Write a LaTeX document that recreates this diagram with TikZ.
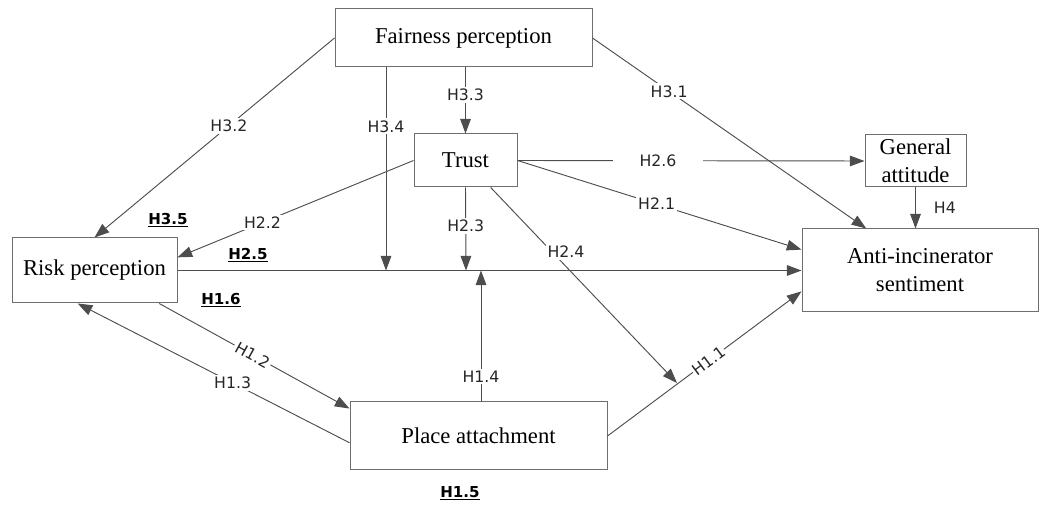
\documentclass[tikz,border=0pt]{standalone}
\usepackage{fontspec}
\setmainfont{Liberation Serif}
\newfontfamily\hypfont{DejaVu Sans}
\usepackage{tikz}
\usetikzlibrary{arrows.meta,positioning,calc}
\definecolor{lineGray}{RGB}{77,77,77}
\definecolor{boxGray}{RGB}{110,110,110}

\begin{document}
\begin{tikzpicture}[x=0.75pt, y=-0.75pt,
  box/.style={draw=boxGray, line width=0.75pt, align=center, inner sep=0pt, font=\fontsize{17}{21}\selectfont},
  arr/.style={draw=lineGray, line width=0.7pt, -{Triangle[length=11pt,width=8pt]}},
  lbl/.style={fill=white, inner sep=1.5pt, font=\hypfont\fontsize{11.8}{14}\selectfont, text=black!85},
  hyp/.style={font=\hypfont\bfseries\fontsize{11.3}{13}\selectfont}]
  \useasboundingbox (0,0) rectangle (1042,505);

  % constructs
  \node[box, minimum width=192.75pt, minimum height=43.5pt] (fair) at (463.5,38) {Fairness perception};
  \node[box, minimum width=77.25pt, minimum height=39.75pt] (trust) at (465.5,160.5) {Trust};
  \node[box, minimum width=75.75pt, minimum height=39pt] (gen) at (915.5,161) {General\\attitude};
  \node[box, minimum width=177pt, minimum height=62.25pt] (anti) at (920,270.5) {Anti-incinerator\\sentiment};
  \node[box, minimum width=123.75pt, minimum height=48.75pt] (risk) at (94.5,270.5) {Risk perception};
  \node[box, minimum width=192.75pt, minimum height=51pt] (place) at (478.5,436) {Place attachment};

  % moderation points
  \coordinate (m34) at (386,270.5);
  \coordinate (m23) at (466,270.5);
  \coordinate (m14) at (481,270.5);
  \coordinate (p24) at (677,383);

  % hypotheses
  \draw[arr] (fair.west) -- node[lbl, pos=0.44] {H3.2} (risk.north);
  \draw[arr] (fair.south -| m34) -- node[lbl, pos=0.29] {H3.4} (m34);
  \draw[arr] (fair.south -| trust.north) -- node[lbl, pos=0.42] {H3.3} (trust.north);
  \draw[arr] (fair.east) -- node[lbl, pos=0.28] {H3.1} (anti.142);
  \draw[arr] (trust.west) -- node[lbl, pos=0.64] {H2.2} (risk.9);
  \draw[arr] (trust.south) -- node[lbl, pos=0.46] {H2.3} (m23);
  \draw[arr] (trust.east) -- node[lbl, pos=0.49] {H2.1} (anti.170);
  \draw[arr] (trust.east) -- node[lbl, pos=0.405, inner xsep=20pt] {H2.6} (gen.west);
  \draw[arr] (trust.-47) -- node[lbl, pos=0.39, yshift=9pt, xshift=2pt] {H2.4} (p24);
  \draw[arr] (place.east) -- node[lbl, pos=0.52, sloped, inner sep=0.5pt] {H1.1} (anti.190);
  \draw[arr] (gen.south) -- node[lbl, right=12pt, fill=none] {H4} (gen.south |- anti.north);
  \draw[arr] (risk) -- (anti);
  \draw[arr] (m14 |- place.north) -- node[lbl, pos=0.19] {H1.4} (m14);
  \draw[arr] (risk.-27.5) -- node[lbl, pos=0.49, sloped] {H1.2} (place.168);
  \draw[arr] (place.183) -- node[lbl, pos=0.43] {H1.3} (risk.-117);

  % interaction labels
  \node[hyp] (h35) at (168,220) {\underline{H3.5}};
  \node[hyp] (h25) at (248,255) {\underline{H2.5}};
  \node[hyp] (h16) at (221,300) {\underline{H1.6}};
  \node[hyp] (h15) at (460,493) {\underline{H1.5}};
\end{tikzpicture}
\end{document}
